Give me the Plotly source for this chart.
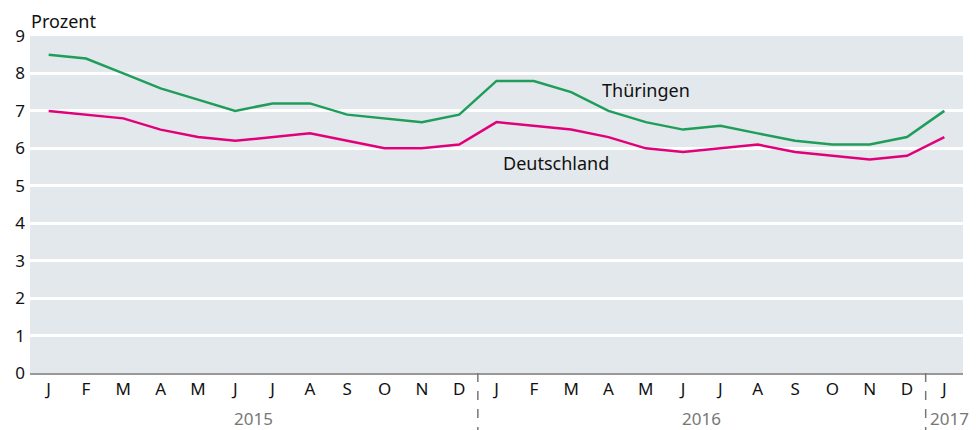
import plotly.graph_objects as go

months = ["J","F","M","A","M","J","J","A","S","O","N","D",
          "J","F","M","A","M","J","J","A","S","O","N","D","J"]
thueringen = [8.5, 8.4, 8.0, 7.6, 7.3, 7.0, 7.2, 7.2, 6.9, 6.8, 6.7, 6.9,
              7.8, 7.8, 7.5, 7.0, 6.7, 6.5, 6.6, 6.4, 6.2, 6.1, 6.1, 6.3, 7.0]
deutschland = [7.0, 6.9, 6.8, 6.5, 6.3, 6.2, 6.3, 6.4, 6.2, 6.0, 6.0, 6.1,
               6.7, 6.6, 6.5, 6.3, 6.0, 5.9, 6.0, 6.1, 5.9, 5.8, 5.7, 5.8, 6.3]
years = ["2015", "2016", "2017"]
year_centers = [5.5, 17.5, 24.0]
year_breaks = [11.5, 23.5]
yticks = list(range(0, 10))

x = list(range(len(months)))
FONT = "Source Sans Pro, Noto Sans, sans-serif"

fig = go.Figure()
fig.add_trace(go.Scatter(x=x, y=thueringen, mode="lines", name="Thüringen",
                         line=dict(color="#1f9d5a", width=2.5)))
fig.add_trace(go.Scatter(x=x, y=deutschland, mode="lines", name="Deutschland",
                         line=dict(color="#e2007a", width=2.5)))

fig.update_layout(
    width=976, height=430,
    margin=dict(l=30, r=13, t=36, b=57),
    plot_bgcolor="#e3e8ec", paper_bgcolor="white",
    showlegend=False,
    font=dict(family=FONT, size=17, color="#111"),
    xaxis=dict(range=[-0.5, 24.5], tickvals=x, ticktext=months, showgrid=False,
               zeroline=False, showline=True, linecolor="#999", linewidth=1.5,
               ticks="", tickfont=dict(size=17, color="#111"), automargin=False),
    yaxis=dict(range=[0, 9], tickvals=yticks, showgrid=True, gridcolor="white",
               gridwidth=3, zeroline=False, ticks="", ticklabelstandoff=4,
               tickfont=dict(size=17, color="#111"), automargin=False),
)

for b in year_breaks:
    fig.add_shape(type="line", xref="x", yref="paper", x0=b, x1=b, y0=0, y1=-0.17,
                  line=dict(color="#777", width=1.5, dash="dash"))

for i, (yr, c) in enumerate(zip(years, year_centers)):
    last = i == len(years) - 1
    fig.add_annotation(x=1.0 if last else c, xref="paper" if last else "x",
                       y=-0.135, yref="paper", text=yr, showarrow=False,
                       yanchor="middle", borderpad=0,
                       xanchor="right" if last else "center",
                       xshift=7 if last else 0,
                       font=dict(size=17, color="#777"))

fig.add_annotation(x=0, y=1.0, xref="paper", yref="paper", text="Prozent", showarrow=False,
                   xanchor="left", yanchor="bottom", xshift=-1, yshift=1,
                   font=dict(size=18, color="#111"))
fig.add_annotation(x=16.0, y=7.56, text="Thüringen", showarrow=False,
                   font=dict(size=18, color="#111"))
fig.add_annotation(x=13.6, y=5.6, text="Deutschland", showarrow=False,
                   font=dict(size=18, color="#111"))

fig.write_html("out.html", config={"displayModeBar": False},
               post_script="document.body.style.margin='0';document.body.style.overflow='hidden';")
